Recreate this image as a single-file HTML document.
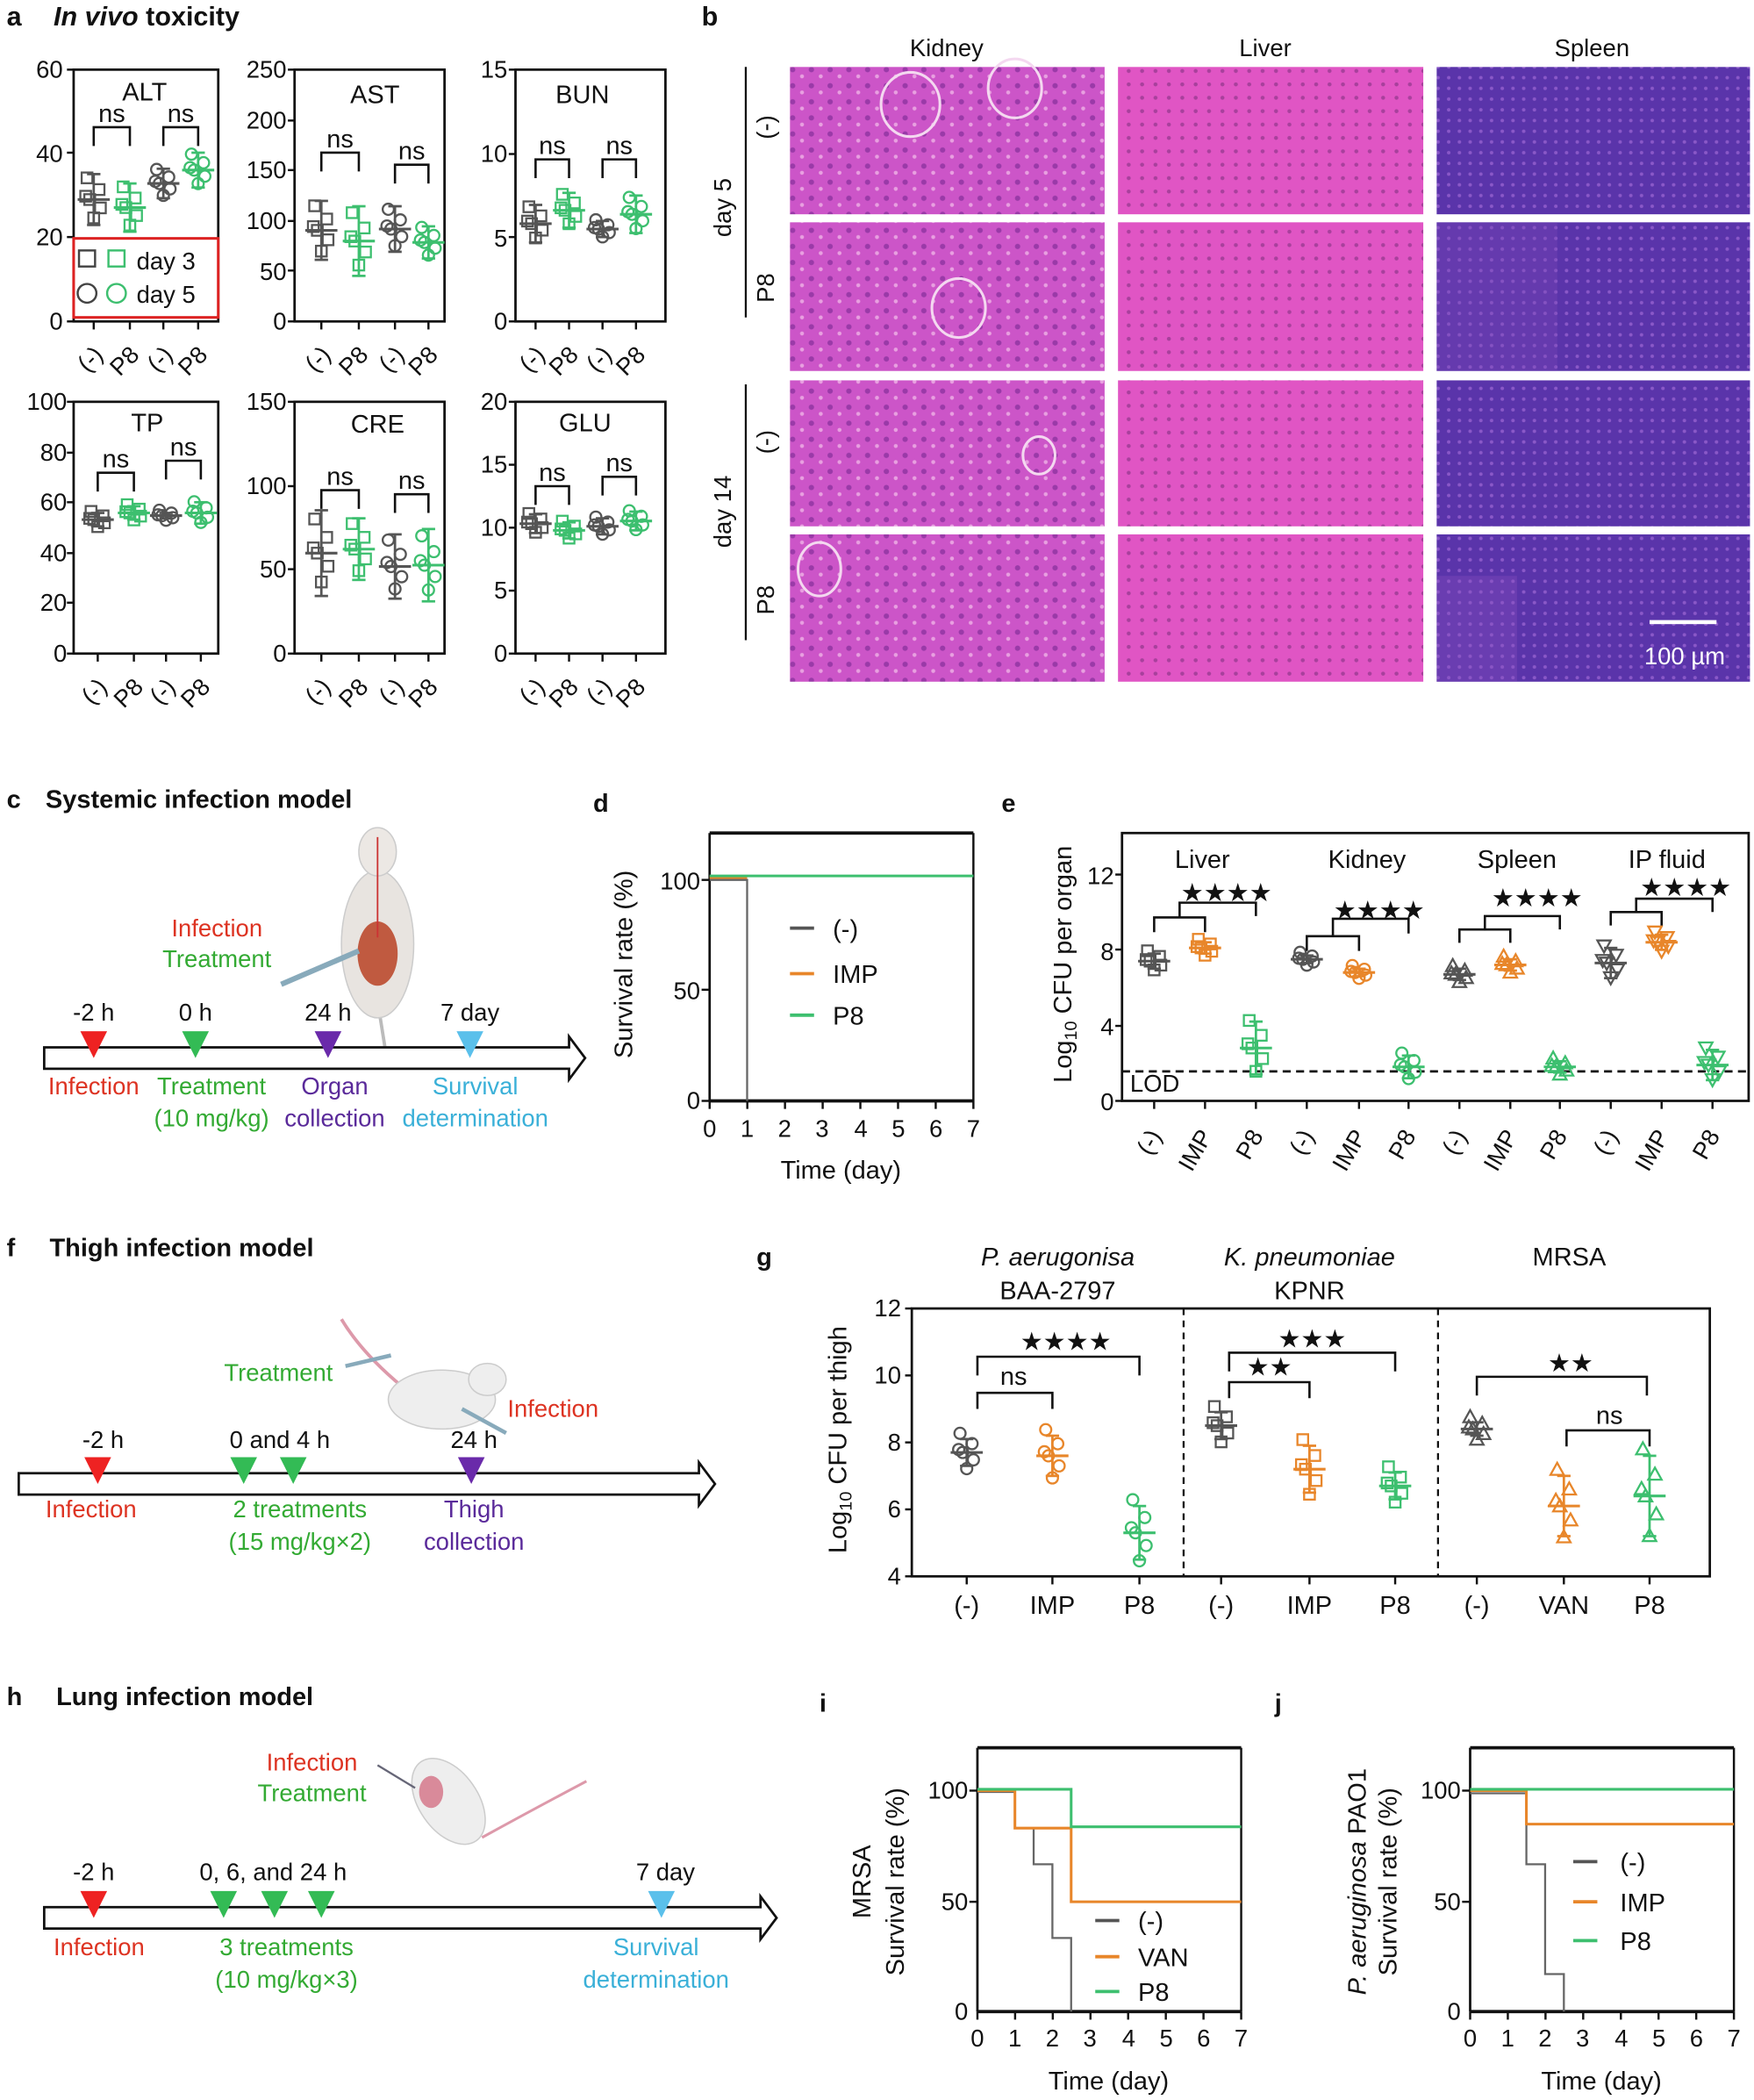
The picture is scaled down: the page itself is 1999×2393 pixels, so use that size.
<!DOCTYPE html>
<html><head><meta charset="utf-8"><style>
html,body{margin:0;padding:0;background:#fff}
svg{display:block}
text{font-family:"Liberation Sans",sans-serif}
</style></head><body>
<svg id="s" width="1999" height="2393" viewBox="0 0 1310 1568" preserveAspectRatio="none" xmlns="http://www.w3.org/2000/svg">
<rect width="1310" height="1568" fill="#fff"/>
<defs>
<pattern id="pk" width="14" height="12" patternUnits="userSpaceOnUse"><rect width="14" height="12" fill="#cc55c8"/><circle cx="4" cy="4" r="2" fill="#9a3aa8"/><circle cx="11" cy="9" r="1.5" fill="#e8a0e0"/></pattern>
<pattern id="pl" width="10" height="10" patternUnits="userSpaceOnUse"><rect width="10" height="10" fill="#e055c4"/><circle cx="3" cy="3" r="1.5" fill="#a8409c"/></pattern>
<pattern id="ps" width="8" height="8" patternUnits="userSpaceOnUse"><rect width="8" height="8" fill="#5a34aa"/><circle cx="2" cy="2" r="1.3" fill="#8a58c8"/></pattern>
</defs>
<g id="b"></g>
<g id="dyn"></g>
<g font-size="19" fill="#111">
<!-- panel a -->
<text x="5" y="19" font-weight="bold" font-size="20">a</text>
<text x="40" y="19" font-weight="bold" font-size="20"><tspan font-style="italic">In vivo</tspan> toxicity</text>
<g text-anchor="end" font-size="18">
<text x="47" y="58">60</text><text x="47" y="121">40</text><text x="47" y="183">20</text><text x="47" y="246">0</text>
<text x="214" y="58">250</text><text x="214" y="96">200</text><text x="214" y="133">150</text><text x="214" y="171">100</text><text x="214" y="209">50</text><text x="214" y="246">0</text>
<text x="379" y="58">15</text><text x="379" y="121">10</text><text x="379" y="184">5</text><text x="379" y="246">0</text>
<text x="50" y="306">100</text><text x="50" y="344">80</text><text x="50" y="381">60</text><text x="50" y="419">40</text><text x="50" y="456">20</text><text x="50" y="494">0</text>
<text x="214" y="306">150</text><text x="214" y="369">100</text><text x="214" y="431">50</text><text x="214" y="494">0</text>
<text x="379" y="306">20</text><text x="379" y="353">15</text><text x="379" y="400">10</text><text x="379" y="447">5</text><text x="379" y="494">0</text>
</g>
<g text-anchor="middle" font-size="19">
<text x="108" y="75">ALT</text><text x="280" y="77">AST</text><text x="435" y="77">BUN</text>
<text x="110" y="322">TP</text><text x="282" y="323">CRE</text><text x="437" y="322">GLU</text>
</g>
<!-- legend ALT -->
<rect x="55" y="178" width="108" height="59" fill="#fff" stroke="#d22" stroke-width="2"/>
<rect x="59" y="187" width="12" height="12" fill="none" stroke="#444" stroke-width="1.6"/>
<rect x="81" y="187" width="12" height="12" fill="none" stroke="#3dbf6f" stroke-width="1.6"/>
<circle cx="65" cy="219" r="7" fill="none" stroke="#444" stroke-width="1.6"/>
<circle cx="87" cy="219" r="7" fill="none" stroke="#3dbf6f" stroke-width="1.6"/>
<text x="102" y="201" font-size="18">day 3</text><text x="102" y="226" font-size="18">day 5</text>

<!-- panel b -->
<text x="524" y="19" font-weight="bold" font-size="20">b</text>
<g text-anchor="middle" font-size="18"><text x="707" y="42">Kidney</text><text x="945" y="42">Liver</text><text x="1189" y="42">Spleen</text></g>
<text x="1228" y="496" fill="#fff" font-size="18">100 µm</text>
<rect x="1232" y="463" width="50" height="3" fill="#fff"/>
<g font-size="18">
<line x1="557" y1="50" x2="557" y2="237" stroke="#111" stroke-width="1.5"/>
<line x1="557" y1="287" x2="557" y2="478" stroke="#111" stroke-width="1.5"/>
<text transform="translate(546,155) rotate(-90)" text-anchor="middle">day 5</text>
<text transform="translate(578,95) rotate(-90)" text-anchor="middle">(-)</text>
<text transform="translate(578,215) rotate(-90)" text-anchor="middle">P8</text>
<text transform="translate(546,382) rotate(-90)" text-anchor="middle">day 14</text>
<text transform="translate(578,330) rotate(-90)" text-anchor="middle">(-)</text>
<text transform="translate(578,448) rotate(-90)" text-anchor="middle">P8</text>
</g>

<!-- panel c -->
<text x="5" y="603" font-weight="bold">c</text>
<text x="34" y="603" font-weight="bold">Systemic infection model</text>
<text x="162" y="699" fill="#d32" text-anchor="middle" font-size="18">Infection</text>
<text x="162" y="722" fill="#3a3" text-anchor="middle" font-size="18">Treatment</text>
<g text-anchor="middle" font-size="18">
<text x="70" y="762">-2 h</text><text x="146" y="762">0 h</text><text x="245" y="762">24 h</text><text x="351" y="762">7 day</text>
<text x="70" y="817" fill="#d32">Infection</text><text x="158" y="817" fill="#3a3">Treatment</text><text x="158" y="841" fill="#3a3">(10 mg/kg)</text>
<text x="250" y="817" fill="#5a2a9a">Organ</text><text x="250" y="841" fill="#5a2a9a">collection</text>
<text x="355" y="817" fill="#3ab0d8">Survival</text><text x="355" y="841" fill="#3ab0d8">determination</text>
</g>

<!-- panel d -->
<text x="443" y="606" font-weight="bold">d</text>
<text transform="translate(472,720) rotate(-90)" text-anchor="middle" font-size="19">Survival rate (%)</text>
<g text-anchor="end" font-size="18"><text x="523" y="664">100</text><text x="523" y="746">50</text><text x="523" y="828">0</text></g>
<g text-anchor="middle" font-size="18"><text x="530" y="849">0</text><text x="558" y="849">1</text><text x="586" y="849">2</text><text x="614" y="849">3</text><text x="643" y="849">4</text><text x="671" y="849">5</text><text x="699" y="849">6</text><text x="727" y="849">7</text></g>
<text x="628" y="880" text-anchor="middle">Time (day)</text>
<g font-size="19"><text x="622" y="700">(-)</text><text x="622" y="734">IMP</text><text x="622" y="765">P8</text></g>

<!-- panel e -->
<text x="748" y="606" font-weight="bold">e</text>
<text transform="translate(800,720) rotate(-90)" text-anchor="middle" font-size="19">Log<tspan font-size="13" dy="4">10</tspan><tspan dy="-4"> CFU per organ</tspan></text>
<g text-anchor="end" font-size="18"><text x="832" y="660">12</text><text x="832" y="717">8</text><text x="832" y="773">4</text><text x="832" y="829">0</text></g>
<g text-anchor="middle" font-size="19"><text x="898" y="648">Liver</text><text x="1021" y="648">Kidney</text><text x="1133" y="648">Spleen</text><text x="1245" y="648">IP fluid</text>
<text x="916" y="673">★★★★</text><text x="1030" y="686">★★★★</text><text x="1148" y="677">★★★★</text><text x="1259" y="669">★★★★</text></g>
<text x="844" y="815" font-size="18">LOD</text>

<!-- panel f -->
<text x="5" y="938" font-weight="bold">f</text>
<text x="37" y="938" font-weight="bold">Thigh infection model</text>
<text x="208" y="1031" fill="#3a3" text-anchor="middle" font-size="18">Treatment</text>
<text x="413" y="1058" fill="#d32" text-anchor="middle" font-size="18">Infection</text>
<g text-anchor="middle" font-size="18">
<text x="77" y="1081">-2 h</text><text x="209" y="1081">0 and 4 h</text><text x="354" y="1081">24 h</text>
<text x="68" y="1133" fill="#d32">Infection</text><text x="224" y="1133" fill="#3a3">2 treatments</text><text x="224" y="1157" fill="#3a3">(15 mg/kg×2)</text>
<text x="354" y="1133" fill="#5a2a9a">Thigh</text><text x="354" y="1157" fill="#5a2a9a">collection</text>
</g>

<!-- panel g -->
<text x="565" y="945" font-weight="bold">g</text>
<g text-anchor="middle" font-size="19"><text x="790" y="945" font-style="italic">P. aerugonisa</text><text x="790" y="970">BAA-2797</text>
<text x="978" y="945" font-style="italic">K. pneumoniae</text><text x="978" y="970">KPNR</text><text x="1172" y="945">MRSA</text></g>
<text transform="translate(632,1075) rotate(-90)" text-anchor="middle" font-size="19">Log<tspan font-size="13" dy="4">10</tspan><tspan dy="-4"> CFU per thigh</tspan></text>
<g text-anchor="end" font-size="18"><text x="673" y="983">12</text><text x="673" y="1033">10</text><text x="673" y="1083">8</text><text x="673" y="1133">6</text><text x="673" y="1183">4</text></g>
<g text-anchor="middle" font-size="19"><text x="722" y="1205">(-)</text><text x="786" y="1205">IMP</text><text x="851" y="1205">P8</text><text x="912" y="1205">(-)</text><text x="978" y="1205">IMP</text><text x="1042" y="1205">P8</text><text x="1103" y="1205">(-)</text><text x="1168" y="1205">VAN</text><text x="1232" y="1205">P8</text>
<text x="796" y="1008">★★★★</text><text x="757" y="1034">ns</text><text x="980" y="1006">★★★</text><text x="948" y="1027">★★</text><text x="1173" y="1024">★★</text><text x="1202" y="1063">ns</text></g>

<!-- panel h -->
<text x="5" y="1273" font-weight="bold">h</text>
<text x="42" y="1273" font-weight="bold">Lung infection model</text>
<text x="233" y="1322" fill="#d32" text-anchor="middle" font-size="18">Infection</text>
<text x="233" y="1345" fill="#3a3" text-anchor="middle" font-size="18">Treatment</text>
<g text-anchor="middle" font-size="18">
<text x="70" y="1404">-2 h</text><text x="204" y="1404">0, 6, and 24 h</text><text x="497" y="1404">7 day</text>
<text x="74" y="1460" fill="#d32">Infection</text><text x="214" y="1460" fill="#3a3">3 treatments</text><text x="214" y="1484" fill="#3a3">(10 mg/kg×3)</text>
<text x="490" y="1460" fill="#3ab0d8">Survival</text><text x="490" y="1484" fill="#3ab0d8">determination</text>
</g>

<!-- panel i -->
<text x="612" y="1278" font-weight="bold">i</text>
<text transform="translate(650,1405) rotate(-90)" text-anchor="middle" font-size="19">MRSA</text>
<text transform="translate(675,1405) rotate(-90)" text-anchor="middle" font-size="19">Survival rate (%)</text>
<g text-anchor="end" font-size="18"><text x="723" y="1343">100</text><text x="723" y="1426">50</text><text x="723" y="1508">0</text></g>
<g text-anchor="middle" font-size="18"><text x="730" y="1528">0</text><text x="758" y="1528">1</text><text x="786" y="1528">2</text><text x="814" y="1528">3</text><text x="843" y="1528">4</text><text x="871" y="1528">5</text><text x="899" y="1528">6</text><text x="927" y="1528">7</text></g>
<text x="828" y="1560" text-anchor="middle">Time (day)</text>
<g font-size="19"><text x="850" y="1441">(-)</text><text x="850" y="1468">VAN</text><text x="850" y="1494">P8</text></g>

<!-- panel j -->
<text x="952" y="1278" font-weight="bold">j</text>
<text transform="translate(1020,1405) rotate(-90)" text-anchor="middle" font-size="19"><tspan font-style="italic">P. aeruginosa</tspan> PAO1</text>
<text transform="translate(1043,1405) rotate(-90)" text-anchor="middle" font-size="19">Survival rate (%)</text>
<g text-anchor="end" font-size="18"><text x="1091" y="1343">100</text><text x="1091" y="1426">50</text><text x="1091" y="1508">0</text></g>
<g text-anchor="middle" font-size="18"><text x="1098" y="1528">0</text><text x="1126" y="1528">1</text><text x="1154" y="1528">2</text><text x="1182" y="1528">3</text><text x="1211" y="1528">4</text><text x="1239" y="1528">5</text><text x="1267" y="1528">6</text><text x="1295" y="1528">7</text></g>
<text x="1196" y="1560" text-anchor="middle">Time (day)</text>
<g font-size="19"><text x="1210" y="1397">(-)</text><text x="1210" y="1427">IMP</text><text x="1210" y="1456">P8</text></g>
</g>
<g id="lab"></g>
</svg>
<script>
var NS="http://www.w3.org/2000/svg",D=document.getElementById('dyn'),LAB=document.getElementById('lab');
function el(t,a,p){var e=document.createElementNS(NS,t);for(var k in a)e.setAttribute(k,a[k]);(p||D).appendChild(e);return e}
function ln(x1,y1,x2,y2,c,w,ex){var a={x1:x1,y1:y1,x2:x2,y2:y2,stroke:c||'#111','stroke-width':w||1.6};if(ex)a['stroke-dasharray']=ex;return el('line',a)}
function box(x,y,w,h){el('rect',{x:x,y:y,width:w,height:h,fill:'none',stroke:'#111','stroke-width':1.8})}
var G='#555',GR='#3dbf6f',OR='#e8862a';
function mk(type,x,y,c){
 if(type=='s')el('rect',{x:x-4,y:y-4,width:8,height:8,fill:'none',stroke:c,'stroke-width':1.5});
 else if(type=='c')el('circle',{cx:x,cy:y,r:4.2,fill:'none',stroke:c,'stroke-width':1.5});
 else if(type=='t')el('path',{d:'M'+x+' '+(y-5)+'L'+(x+5)+' '+(y+4)+'L'+(x-5)+' '+(y+4)+'Z',fill:'none',stroke:c,'stroke-width':1.5});
 else if(type=='v')el('path',{d:'M'+x+' '+(y+5)+'L'+(x+5)+' '+(y-4)+'L'+(x-5)+' '+(y-4)+'Z',fill:'none',stroke:c,'stroke-width':1.5});
}
function grp(x,m,sd,c,type,spread){
 var off=[-1.3,-0.6,0,0.5,1.1,-0.2],dx=[-5,4,-3,5,0,-6];
 for(var i=0;i<6;i++)mk(type,x+dx[i],m+off[i]*spread,c);
 ln(x,m-sd,x,m+sd,c,1.8);ln(x-5,m-sd,x+5,m-sd,c,1.8);ln(x-5,m+sd,x+5,m+sd,c,1.8);ln(x-12,m,x+12,m,c,2);
}
function brk(x1,x2,y,h,h2){el('path',{d:'M'+x1+' '+(y+h)+'V'+y+'H'+x2+'V'+(y+(h2==null?h:h2)),fill:'none',stroke:'#111','stroke-width':1.7})}
function txt(x,y,s,a){var t=el('text',Object.assign({x:x,y:y,'font-family':'Liberation Sans','font-size':19,fill:'#111'},a||{}),LAB);t.textContent=s;return t}

// panel a mini plots: L,T,means,sd,groupsX,bracketY
var P=[[55,52,[149,155,137,127],[19,18,11,13],[70,97,122,148],[95,95]],
[220,52,[172,180,171,181],[22,26,17,12],[240,268,295,320],[114,123]],
[385,52,[167,157,171,160],[14,13,6,14],[400,425,450,475],[119,119]],
[55,300,[388,383,385,383],[5,5,2,8],[73,100,124,150],[353,344]],
[220,300,[413,410,423,422],[32,23,24,27],[240,268,295,320],[366,369]],
[385,300,[391,396,393,389],[7,6,6,7],[400,425,450,475],[363,356]]];
P.forEach(function(p,k){
 var L=p[0],T=p[1];box(L,T,(k%3==0?108:112),188);
 var ty=[[52,114,177,240],[52,90,127,165,202,240],[52,115,177,240],[300,338,375,413,450,488],[300,363,425,488],[300,347,394,441,488]][k];
 ty.forEach(function(y){ln(L-5,y,L,y)});
 for(var i=0;i<4;i++){var x=p[4][i];ln(x,T+188,x,T+194);
  var c=(i%2)?GR:G,t=i<2?'s':'c';
  grp(x,p[2][i],p[3][i],c,t,p[3][i]*0.55+2);
 }
 brk(p[4][0],p[4][1],p[5][0],14);brk(p[4][2],p[4][3],p[5][1],14);
 txt((p[4][0]+p[4][1])/2,p[5][0]-4,'ns',{'text-anchor':'middle'});txt((p[4][2]+p[4][3])/2,p[5][1]-4,'ns',{'text-anchor':'middle'});
 var by=T+188+18;
 for(var i=0;i<4;i++){var s=i%2?'P8':'(-)';txt(p[4][i]+8,by+8,s,{'text-anchor':'end','font-size':18,transform:'rotate(-45 '+(p[4][i]+8)+' '+(by+8)+')'})}
});

// panel b images
var bx=[[590,235,'pk'],[835,228,'pl'],[1073,234,'ps']],by=[[50,110],[166,111],[284,109],[399,110]];
var B=document.getElementById('b');
bx.forEach(function(c){by.forEach(function(r){el('rect',{x:c[0],y:r[0],width:c[1],height:r[1],fill:'url(#'+c[2]+')'},B)})});
[[680,78,22,24],[758,66,20,22],[716,230,20,22],[776,340,12,14],[612,425,16,20]].forEach(function(g){el('ellipse',{cx:g[0],cy:g[1],rx:g[2],ry:g[3],fill:'none',stroke:'#f4d8f0','stroke-width':2},B)});
el('rect',{x:1073,y:166,width:90,height:111,fill:'#7a48b8',opacity:0.35},B);
el('rect',{x:1073,y:430,width:60,height:79,fill:'#8a50c0',opacity:0.35},B);

// timeline helper
function tl(x1,x2,y){el('path',{d:'M'+x1+' '+(y-8)+'H'+(x2-12)+'V'+(y-16)+'L'+x2+' '+y+'L'+(x2-12)+' '+(y+16)+'V'+(y+8)+'H'+x1+'Z',fill:'#fff',stroke:'#111','stroke-width':1.8})}
function tri(x,y,c){el('path',{d:'M'+(x-10)+' '+(y-20)+'H'+(x+10)+'L'+x+' '+y+'Z',fill:c})}
// c mouse
ln(284,760,288,785,'#bbb',2.5);
el('ellipse',{cx:282,cy:705,rx:27,ry:55,fill:'#e8e4e0',stroke:'#ccc'});
el('ellipse',{cx:282,cy:636,rx:14,ry:18,fill:'#ece8e4',stroke:'#ccc'});
el('ellipse',{cx:282,cy:712,rx:15,ry:24,fill:'#c05a40'});
ln(282,625,282,700,'#c33',1.2);
ln(210,735,268,710,'#8ab',4);
tl(33,437,790);tri(70,790,'#e22');tri(146,790,'#3b5');tri(245,790,'#6a2aaa');tri(351,790,'#5bc0eb');
// f mouse
el('path',{d:'M300 1035 Q270 1010 255 985',fill:'none',stroke:'#d9a','stroke-width':2.5});
el('ellipse',{cx:330,cy:1045,rx:40,ry:22,fill:'#eee',stroke:'#ccc'});
el('ellipse',{cx:364,cy:1030,rx:14,ry:12,fill:'#eee',stroke:'#ccc'});
ln(258,1020,292,1012,'#8ab',3);ln(345,1052,378,1070,'#8ab',3);
tl(14,534,1108);tri(73,1108,'#e22');tri(182,1108,'#3b5');tri(219,1108,'#3b5');tri(352,1108,'#6a2aaa');
// h mouse
el('path',{d:'M360 1372 Q400 1350 438 1330',fill:'none',stroke:'#d9a','stroke-width':2});
el('ellipse',{cx:335,cy:1345,rx:22,ry:36,fill:'#eee',stroke:'#ccc',transform:'rotate(-35 335 1345)'});
el('ellipse',{cx:322,cy:1338,rx:9,ry:12,fill:'#d98a9a'});
ln(282,1318,310,1335,'#667',1.5);
tl(33,580,1432);tri(70,1432,'#e22');tri(167,1432,'#3b5');tri(205,1432,'#3b5');tri(240,1432,'#3b5');tri(494,1432,'#5bc0eb');

// panel d
function surv(L,T,W,H,lines){
 ln(L,T,L+W,T,'#111',2.5);ln(L+W,T,L+W,T+H);ln(L,T,L,T+H,'#111',1.8);ln(L,T+H,L+W,T+H,'#111',2.5);
 var u=W/7;for(var i=0;i<=7;i++)ln(L+i*u,T+H,L+i*u,T+H+6);
 lines.forEach(function(l){el('path',{d:l[0],fill:'none',stroke:l[1],'stroke-width':l[2]||2})});
}
surv(530,622,197,200,[['M530 657H558V822','#666',1.5],['M530 655H558','#e8862a',2.5],['M530 654H727','#3dbf6f',2]]);
ln(530,657,524,657);ln(530,739,524,739);ln(530,822,524,822);
ln(590,693,608,693,'#555',2.5);ln(590,727,608,727,OR,2.5);ln(590,758,608,758,GR,2.5);

// panel e
box(838,622,468,200);
[822,766,709,653].forEach(function(y){ln(833,y,838,y)});
ln(838,800,1306,800,'#111',1.8,'6,4');
var ex=[862,900,938,976,1015,1052,1090,1128,1165,1203,1241,1279],em=[7.4,8.1,2.8,7.5,6.8,1.8,6.7,7.2,1.8,7.3,8.4,1.9],es=[0.4,0.3,1.4,0.2,0.2,0.6,0.3,0.3,0.3,0.8,0.4,0.8];
var et=['s','s','s','c','c','c','t','t','t','v','v','v'],ec=[G,OR,GR];
ex.forEach(function(x,i){var y=822-em[i]*14.1;grp(x,y,es[i]*14.1,ec[i%3],et[i],es[i]*14.1*0.7+2);ln(x,822,x,828);
 var lab=['(-)','IMP','P8'][i%3];txt(x+6,848,lab,{'text-anchor':'end','font-size':18,transform:'rotate(-60 '+(x+6)+' 848)'})});
// [index, lowerY, lowerLegBottom, upperY, upperRightBottom]
[[0,685,696,674,684],[3,699,710,686,697],[6,694,704,684,694],[9,681,691,671,681]].forEach(function(b){var a=ex[b[0]],m=ex[b[0]+1],p=ex[b[0]+2];
 brk(a,m,b[1],b[2]-b[1]);var mid=(a+m)/2;brk(mid,p,b[3],b[1]-b[3],b[4]-b[3]);});

// panel g
box(681,977,596,200);
[977,1027,1077,1127,1177].forEach(function(y){ln(676,y,681,y)});
ln(884,977,884,1177,'#111',1.5,'5,4');ln(1074,977,1074,1177,'#111',1.5,'5,4');
var gx=[722,786,851,912,978,1042,1103,1168,1232],gm=[7.7,7.6,5.3,8.5,7.2,6.7,8.4,6.1,6.4],gs=[0.4,0.6,0.8,0.4,0.7,0.4,0.2,0.9,1.2];
var gt=['c','c','c','s','s','s','t','t','t'];
gx.forEach(function(x,i){var y=1177-(gm[i]-4)*25;grp(x,y,gs[i]*25,ec[i%3],gt[i],gs[i]*25*0.8+3);ln(x,1177,x,1183)});
brk(730,851,1013,14);brk(730,786,1040,12);brk(918,1042,1010,14);brk(918,978,1032,12);brk(1103,1230,1028,14);brk(1170,1232,1068,12);

// panel i
surv(730,1305,197,197,[['M730 1338H758V1365H772V1392H786V1447H800V1502','#666',1.5],['M730 1337H758V1365H800V1420H927','#e8862a',2],['M730 1336H800V1364H927','#3dbf6f',2]]);
ln(730,1337,724,1337);ln(730,1420,724,1420);
ln(818,1434,836,1434,'#555',2.5);ln(818,1461,836,1461,OR,2.5);ln(818,1487,836,1487,GR,2.5);
// panel j
surv(1098,1305,197,197,[['M1098 1339H1140V1392H1154V1474H1168V1502','#666',1.5],['M1098 1337H1140V1362H1295','#e8862a',2],['M1098 1336H1295','#3dbf6f',2]]);
ln(1098,1337,1092,1337);ln(1098,1420,1092,1420);
ln(1175,1390,1193,1390,'#555',2.5);ln(1175,1420,1193,1420,OR,2.5);ln(1175,1449,1193,1449,GR,2.5);
</script>
</body></html>
